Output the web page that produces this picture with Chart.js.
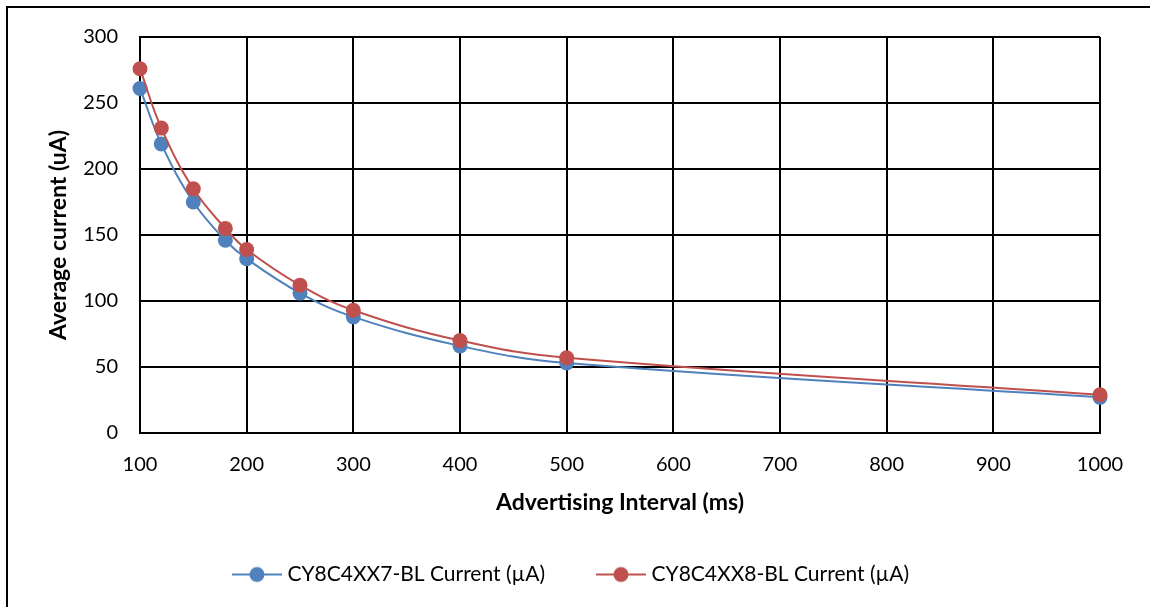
<!DOCTYPE html>
<html>
<head>
<meta charset="utf-8">
<script src="https://cdn.jsdelivr.net/npm/chart.js@4.4.0/dist/chart.umd.min.js"></script>
<style>
  html, body { margin: 0; padding: 0; background: #fff; }
  #wrap { width: 1150px; height: 607px; }
</style>
</head>
<body>
<div id="wrap"><canvas id="chart" width="1150" height="607"></canvas></div>
<script>
// x values: advertising interval in ms
const intervals = [100, 120, 150, 180, 200, 250, 300, 400, 500, 1000];
// average current readings (uA) per device
const cy7Current = [261, 219, 175, 146, 132, 106, 88, 66, 53, 27];
const cy8Current = [276, 231, 185, 155, 139, 112, 93, 70, 57, 29];
const seriesNames = ["CY8C4XX7-BL Current (µA)", "CY8C4XX8-BL Current (µA)"];
const seriesColors = ["#4F81BD", "#C0504D"];

const FONT = "Lato";

//legend marker: short line with a dot in the middle, left part left blank as spacing
function legendMarker(color) {
  const c = document.createElement("canvas");
  c.width = 96;
  c.height = 18;
  const ctx = c.getContext("2d");
  ctx.strokeStyle = color;
  ctx.lineWidth = 2;
  ctx.beginPath();
  ctx.moveTo(46, 9);
  ctx.lineTo(96, 9);
  ctx.stroke();
  ctx.fillStyle = color;
  ctx.beginPath();
  ctx.arc(71, 9, 7.5, 0, Math.PI * 2);
  ctx.fill();
  return c;
}

//white background plus the frame on top and left
const framePlugin = {
  id: "frame",
  beforeDraw(chart) {
    const ctx = chart.ctx;
    ctx.save();
    ctx.fillStyle = "#fff";
    ctx.fillRect(0, 0, chart.width, chart.height);
    ctx.strokeStyle = "#000";
    ctx.lineWidth = 2;
    ctx.beginPath();
    ctx.moveTo(7, chart.height + 2);
    ctx.lineTo(7, 7);
    ctx.lineTo(chart.width + 2, 7);
    ctx.stroke();
    ctx.restore();
  },
};

function draw() {
  const points = (ys) => intervals.map((x, i) => ({ x: x, y: ys[i] }));
  new Chart(document.getElementById("chart"), {
    type: "line",
    plugins: [framePlugin],
    data: {
      datasets: [
        {
          label: seriesNames[0],
          data: points(cy7Current),
          borderColor: seriesColors[0],
          backgroundColor: seriesColors[0],
          order: 1,
        },
        {
          label: seriesNames[1],
          data: points(cy8Current),
          borderColor: seriesColors[1],
          backgroundColor: seriesColors[1],
          order: 0,
        },
      ],
    },
    options: {
      responsive: false,
      animation: false,
      layout: { padding: { top: 37, right: 50, bottom: 12, left: 0 } },
      elements: {
        line: { borderWidth: 2, tension: 0.4 },
        point: { radius: 7.5, borderWidth: 0, hoverRadius: 7.5 },
      },
      datasets: { line: { clip: false } },
      scales: {
        x: {
          type: "linear",
          min: 100,
          max: 1000,
          afterFit(scale) { scale.height = 121; },
          ticks: {
            stepSize: 100,
            color: "#000",
            padding: 20,
            font: { family: FONT, size: 20 },
            callback: (v) => String(v),
          },
          grid: { color: "#000", lineWidth: 2, drawTicks: false, tickLength: 0 },
          border: { color: "#000", width: 2 },
          title: {
            display: true,
            text: "Advertising Interval (ms)",
            color: "#000",
            font: { family: FONT, size: 23, weight: "bold" },
            padding: { top: 0, bottom: 38 },
          },
        },
        y: {
          min: 0,
          max: 300,
          afterFit(scale) { scale.width = 140; },
          ticks: { stepSize: 50, color: "#000", padding: 22, font: { family: FONT, size: 20 } },
          grid: { color: "#000", lineWidth: 2, drawTicks: false, tickLength: 0 },
          border: { color: "#000", width: 2 },
          title: {
            display: true,
            text: "Average current (uA)",
            color: "#000",
            font: { family: FONT, size: 23, weight: "bold" },
            padding: { top: 45, bottom: 0 },
          },
        },
      },
      plugins: {
        tooltip: { enabled: false },
        legend: {
          position: "bottom",
          labels: {
            usePointStyle: true,
            pointStyleWidth: 86,
            padding: 10,
            color: "#000",
            font: { family: FONT, size: 21 },
            generateLabels: (chart) =>
              chart.data.datasets.map((ds, i) => ({
                text: ds.label,
                pointStyle: legendMarker(seriesColors[i]),
                fillStyle: seriesColors[i],
                strokeStyle: seriesColors[i],
                fontColor: "#000",
                lineWidth: 0,
                hidden: false,
                datasetIndex: i,
              })),
          },
        },
      },
    },
  });
}

Promise.all([
  document.fonts.load("20px " + FONT),
  document.fonts.load("bold 23px " + FONT),
]).then(draw, draw);
</script>
</body>
</html>
